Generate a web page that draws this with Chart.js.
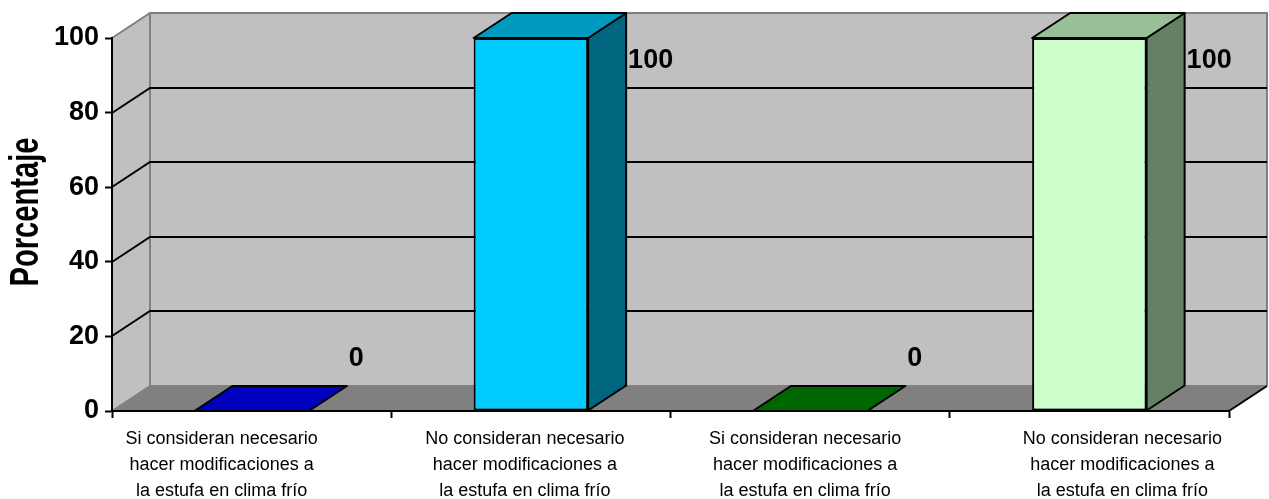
<!DOCTYPE html>
<html>
<head>
<meta charset="utf-8">
<script src="https://cdn.jsdelivr.net/npm/chart.js@4"></script>
<style>
  html, body { margin: 0; padding: 0; background: #ffffff; }
  canvas { display: block; }
</style>
</head>
<body>
<canvas id="chart" width="1269" height="499"></canvas>
<script>
// Categories (multi-line labels), values and axis ticks
const categories = [
  ["Si consideran necesario", "hacer modificaciones a", "la estufa en clima frío"],
  ["No consideran necesario", "hacer modificaciones a", "la estufa en clima frío"],
  ["Si consideran necesario", "hacer modificaciones a", "la estufa en clima frío"],
  ["No consideran necesario", "hacer modificaciones a", "la estufa en clima frío"]
];
const values = [0, 100, 0, 100];
const yTicks = [0, 20, 40, 60, 80, 100];
const yTitle = "Porcentaje";

// Styling
const frontColors = ["#0000FF", "#00CCFF", "#008800", "#CCFFCC"];
const topColors   = ["#0000BF", "#0099BF", "#006600", "#99BF99"];
const sideColors  = ["#000080", "#006680", "#004400", "#668066"];
const labelShift  = [-30, -6, -5, 33];   // horizontal nudge of each category label
const WALL = "#C0C0C0";
const FLOOR = "#808080";
const EDGE = "#808080";
const DX = 38, DY = -25;   // depth offset of the 3D box
const FONT = '"Liberation Sans", Arial, sans-serif';

const boxPlugin = {
  id: 'box3d',
  beforeDraw(chart) {
    const { ctx, chartArea: a, scales: { x, y } } = chart;
    ctx.save();
    // back wall
    ctx.fillStyle = WALL;
    ctx.fillRect(a.left + DX, a.top + DY, a.right - a.left, a.bottom - a.top);
    // left side wall
    ctx.beginPath();
    ctx.moveTo(a.left, a.top);
    ctx.lineTo(a.left + DX, a.top + DY);
    ctx.lineTo(a.left + DX, a.bottom + DY);
    ctx.lineTo(a.left, a.bottom);
    ctx.closePath();
    ctx.fill();
    // floor
    ctx.fillStyle = FLOOR;
    ctx.beginPath();
    ctx.moveTo(a.left, a.bottom);
    ctx.lineTo(a.right, a.bottom);
    ctx.lineTo(a.right + DX, a.bottom + DY);
    ctx.lineTo(a.left + DX, a.bottom + DY);
    ctx.closePath();
    ctx.fill();

    // grey outline of the walls
    ctx.strokeStyle = EDGE;
    ctx.lineWidth = 2;
    ctx.beginPath();
    ctx.moveTo(a.left, a.top);
    ctx.lineTo(a.left + DX, a.top + DY);
    ctx.lineTo(a.right + DX, a.top + DY);
    ctx.lineTo(a.right + DX, a.bottom + DY);
    ctx.moveTo(a.left + DX, a.top + DY);
    ctx.lineTo(a.left + DX, a.bottom + DY);
    ctx.lineTo(a.right + DX, a.bottom + DY);
    ctx.moveTo(a.left, a.bottom);
    ctx.lineTo(a.left + DX, a.bottom + DY);
    ctx.stroke();

    // gridlines on side and back wall
    ctx.strokeStyle = "#000000";
    ctx.lineWidth = 2;
    ctx.beginPath();
    yTicks.forEach(v => {
      if (v === yTicks[0] || v === yTicks[yTicks.length - 1]) return;
      const py = Math.round(y.getPixelForValue(v));
      ctx.moveTo(a.left, py);
      ctx.lineTo(a.left + DX, py + DY);
      ctx.lineTo(a.right + DX, py + DY);
    });
    ctx.stroke();

    // right edge of the floor
    ctx.beginPath();
    ctx.moveTo(a.right, a.bottom);
    ctx.lineTo(a.right + DX, a.bottom + DY);
    ctx.stroke();

    // category labels under the floor
    ctx.fillStyle = "#000000";
    ctx.font = '18px ' + FONT;
    ctx.textAlign = 'center';
    ctx.textBaseline = 'middle';
    categories.forEach((lines, i) => {
      const cx = x.getPixelForValue(i) + labelShift[i];
      lines.forEach((t, k) => ctx.fillText(t, cx, a.bottom + 28 + k * 26));
    });

    // rotated, condensed axis title
    ctx.font = 'bold 41px ' + FONT;
    ctx.textAlign = 'center';
    ctx.textBaseline = 'alphabetic';
    ctx.translate(38, 212);
    ctx.rotate(-Math.PI / 2);
    ctx.scale(0.71, 1);
    ctx.fillText(yTitle, 0, 0);
    ctx.restore();
  },
  afterDatasetsDraw(chart) {
    const { ctx, chartArea: a } = chart;
    const meta = chart.getDatasetMeta(0);
    ctx.save();
    ctx.lineWidth = 2;
    ctx.lineJoin = 'round';
    ctx.strokeStyle = "#000000";
    meta.data.forEach((bar, i) => {
      const { x, y, base, width } = bar.getProps(['x', 'y', 'base', 'width'], true);
      const xl = x - width / 2, xr = x + width / 2;
      // side face
      if (base - y > 0.5) {
        ctx.fillStyle = sideColors[i];
        ctx.beginPath();
        ctx.moveTo(xr, y);
        ctx.lineTo(xr + DX, y + DY);
        ctx.lineTo(xr + DX, base + DY);
        ctx.lineTo(xr, base);
        ctx.closePath();
        ctx.fill();
        ctx.stroke();
      }
      // top face
      ctx.fillStyle = topColors[i];
      ctx.beginPath();
      ctx.moveTo(xl, y);
      ctx.lineTo(xr, y);
      ctx.lineTo(xr + DX, y + DY);
      ctx.lineTo(xl + DX, y + DY);
      ctx.closePath();
      ctx.fill();
      ctx.stroke();

      // value label beside the bar
      ctx.fillStyle = "#000000";
      ctx.font = 'bold 27px ' + FONT;
      ctx.textAlign = 'left';
      ctx.textBaseline = 'middle';
      const ly = Math.max(y + DY - 27, a.top + 23);
      ctx.fillText(String(values[i]), xr + DX + 2, ly);
    });
    ctx.restore();
  }
};

new Chart(document.getElementById('chart'), {
  type: 'bar',
  data: {
    labels: categories,
    datasets: [{
      data: values,
      backgroundColor: frontColors,
      borderColor: "#000000",
      borderWidth: 2,
      borderSkipped: false,
      barPercentage: 1,
      categoryPercentage: 0.41
    }]
  },
  options: {
    responsive: false,
    animation: false,
    devicePixelRatio: 1,
    layout: { padding: { left: 0, right: 40, top: 38, bottom: 0 } },
    plugins: { legend: { display: false }, tooltip: { enabled: false } },
    scales: {
      x: {
        offset: true,
        grid: { display: true, drawOnChartArea: false, drawTicks: true, tickLength: 7, tickColor: "#000000", tickWidth: 2, offset: true },
        border: { display: true, color: "#000000", width: 2 },
        ticks: { display: false },
        afterFit(s) { s.height = 88; }
      },
      y: {
        min: 0,
        max: 100,
        afterBuildTicks(s) { s.ticks = yTicks.map(v => ({ value: v })); },
        grid: { display: true, drawOnChartArea: false, drawTicks: true, tickLength: 7, tickColor: "#000000", tickWidth: 2 },
        border: { display: true, color: "#000000", width: 2 },
        ticks: {
          color: "#000000",
          padding: 6,
          font: { family: FONT, size: 27, weight: 'bold' }
        },
        afterFit(s) { s.width = 112; }
      }
    }
  },
  plugins: [boxPlugin]
});
</script>
</body>
</html>
